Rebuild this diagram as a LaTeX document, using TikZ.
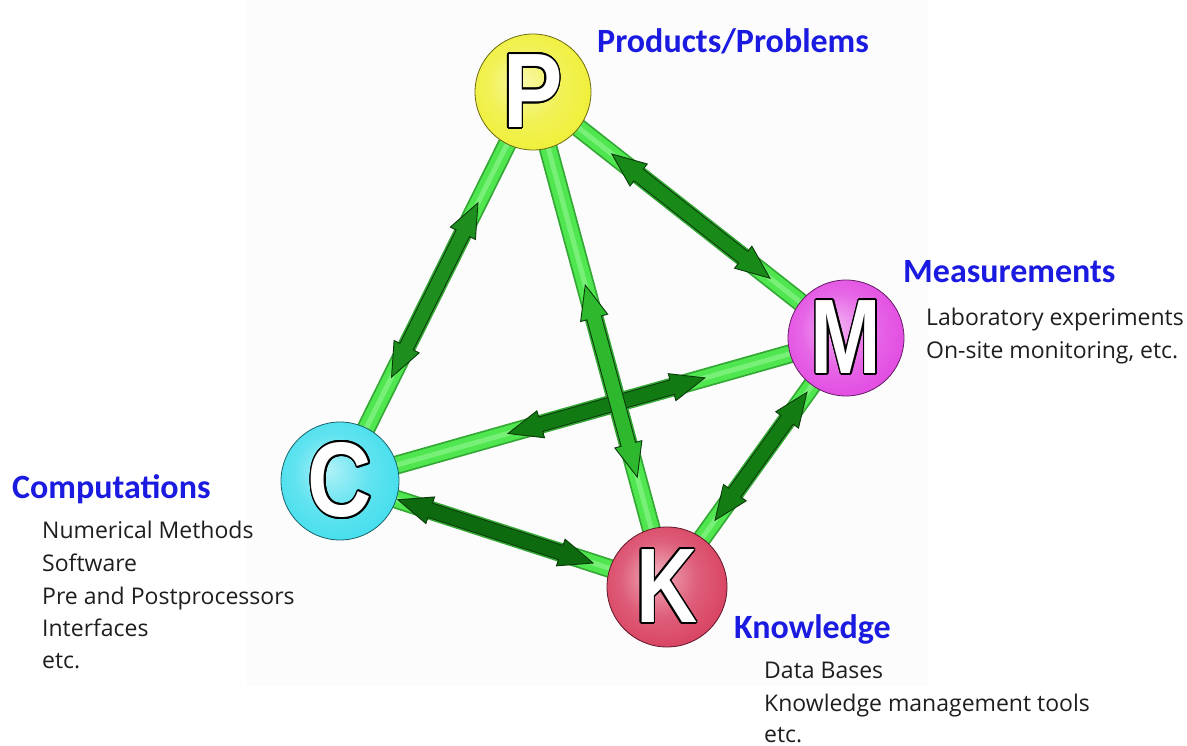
\documentclass[tikz,border=0pt]{standalone}
\usepackage{fontspec}
\setmainfont{Open Sans}
\newfontfamily\headfont{Carlito}
\newfontfamily\letterfont{Liberation Sans}
\usepackage{graphicx}
\usepackage[copies]{contour}
\usetikzlibrary{calc}
\contourlength{2pt}
\definecolor{headblue}{HTML}{1A1AE0}
\definecolor{bodytext}{HTML}{1E1E1E}
\definecolor{pyellow}{HTML}{EEEE2C}
\definecolor{mmagenta}{HTML}{E040E0}
\definecolor{ccyan}{HTML}{3ADCEC}
\definecolor{kred}{HTML}{D63658}
\definecolor{rodedge}{HTML}{34A834}
\definecolor{rodgreen}{HTML}{50E650}
\definecolor{rodlight}{HTML}{78F078}
\definecolor{arrowline}{HTML}{0A3A0A}
\definecolor{aPC}{HTML}{1E8E1E}
\definecolor{aPM}{HTML}{178A17}
\definecolor{aPK}{HTML}{2DB82D}
\definecolor{aCM}{HTML}{127A12}
\definecolor{aCK}{HTML}{0E6A0E}
\definecolor{aKM}{HTML}{137D13}
\colorlet{sphc}{yellow}
\pgfdeclareradialshading[sphc]{sphere}{\pgfpoint{-5bp}{5bp}}{color(0bp)=(sphc!40!white); color(16bp)=(sphc!80!white); color(34bp)=(sphc); color(45bp)=(sphc!88!black); color(50bp)=(sphc!62!black)}
\pgfdeclarelayer{back}
\pgfdeclarelayer{bg}
\pgfsetlayers{back,bg,main}
\newcommand\dblarrow[3]{%
  \coordinate (ba) at ($(#1)!34pt!(#2)$);
  \coordinate (bb) at ($(#2)!34pt!(#1)$);
  \filldraw[fill=#3, draw=arrowline, line width=0.9pt, line join=miter]
    (#1) -- ($(ba)!14pt!90:(#2)$) -- ($(ba)!7.5pt!90:(#2)$) -- ($(bb)!7.5pt!-90:(#1)$)
    -- ($(bb)!14pt!-90:(#1)$) -- (#2) -- ($(bb)!14pt!90:(#1)$) -- ($(bb)!7.5pt!90:(#1)$)
    -- ($(ba)!7.5pt!-90:(#2)$) -- ($(ba)!14pt!-90:(#2)$) -- cycle;
}
\begin{document}
\begin{tikzpicture}[x=1pt,y=-1pt,
  sph/.style={circle, minimum size=#1, inner sep=0pt, line width=0.8pt},
  sphcol/.style={/utils/exec={\colorlet{sphc}{#1}}, shading=sphere, draw=#1!45!black},
  letter/.style={font=\letterfont\bfseries\fontsize{106}{106}\selectfont},
  rodback/.style={line width=19pt, draw=rodedge, line cap=round},
  rodfront/.style={line width=15.5pt, draw=rodgreen, line cap=round},
  rodhi/.style={line width=5pt, draw=rodlight, line cap=round},
  head/.style={font=\headfont\bfseries\fontsize{34}{34}\selectfont, text=headblue, anchor=base west, inner sep=0pt},
  body/.style={font=\fontsize{23}{23}\selectfont, text=bodytext, anchor=base west, inner sep=0pt}]
\useasboundingbox (0,0) rectangle (1187,746);
\begin{pgfonlayer}{back}
  \fill[black!1] (247,0) rectangle (928,686);
\end{pgfonlayer}
% spheres
\node[sph=116pt, sphcol=pyellow, letter] (P) at (533,92) {\scalebox{0.84}[1]{\color{white}\contour{black}{P}}};
\node[sph=116pt, sphcol=mmagenta, letter] (M) at (846,338) {\scalebox{0.80}[1]{\color{white}\contour{black}{M}}};
\node[sph=118pt, sphcol=ccyan, letter] (C) at (340,481) {\scalebox{0.84}[1]{\color{white}\contour{black}{C}}};
\node[sph=120pt, sphcol=kred, letter] (K) at (667,587) {\scalebox{0.80}[1]{\color{white}\contour{black}{K}}};
% rods and arrows
\begin{pgfonlayer}{bg}
  \foreach \a/\b in {P/C, P/M, C/M, P/K, C/K, K/M}{
    \draw[rodback] (\a.center) -- (\b.center);
    \draw[rodfront] (\a.center) -- (\b.center);
    \draw[rodhi] (\a.center) -- (\b.center);
  }
  \coordinate (pc1) at ($(P.center)!0.285!(C.center)$);
  \coordinate (pc2) at ($(P.center)!0.733!(C.center)$);
  \coordinate (pm1) at ($(P.center)!0.252!(M.center)$);
  \coordinate (pm2) at ($(P.center)!0.757!(M.center)$);
  \coordinate (pk1) at ($(P.center)!0.39!(K.center)$);
  \coordinate (pk2) at ($(P.center)!0.778!(K.center)$);
  \coordinate (cm1) at ($(C.center)!0.332!(M.center)$);
  \coordinate (cm2) at ($(C.center)!0.721!(M.center)$);
  \coordinate (ck1) at ($(C.center)!0.177!(K.center)$);
  \coordinate (ck2) at ($(C.center)!0.774!(K.center)$);
  \coordinate (km1) at ($(K.center)!0.268!(M.center)$);
  \coordinate (km2) at ($(K.center)!0.782!(M.center)$);
  \dblarrow{pc1}{pc2}{aPC}
  \dblarrow{pm1}{pm2}{aPM}
  \dblarrow{cm1}{cm2}{aCM}
  \dblarrow{pk1}{pk2}{aPK}
  \dblarrow{ck1}{ck2}{aCK}
  \dblarrow{km1}{km2}{aKM}
\end{pgfonlayer}
% labels
\node[head] (tP) at (597,53) {Products/Problems};
\node[head] (tM) at (903,283) {Measurements};
\node[body] (m1) at (926,326) {Laboratory experiments};
\node[body] (m2) at (926,358) {On-site monitoring, etc.};
\node[head] (tC) at (12,498) {Computations};
\node[body] (c1) at (42,538) {Numerical Methods};
\node[body] (c2) at (42,571) {Software};
\node[body] (c3) at (42,604) {Pre and Postprocessors};
\node[body] (c4) at (42,636) {Interfaces};
\node[body] (c5) at (42,668) {etc.};
\node[head] (tK) at (734,638) {Knowledge};
\node[body] (k1) at (764,678) {Data Bases};
\node[body] (k2) at (764,711) {Knowledge management tools};
\node[body] (k3) at (764,742) {etc.};
\end{tikzpicture}
\end{document}
